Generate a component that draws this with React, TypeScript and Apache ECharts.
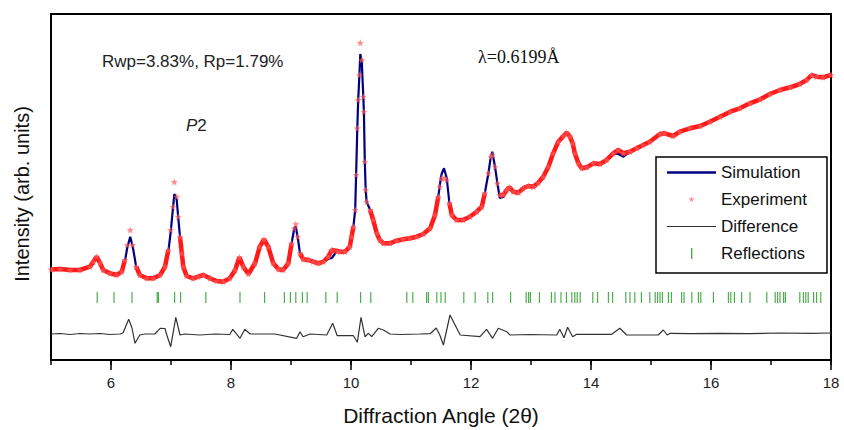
import React, { useEffect, useRef } from 'react';
import * as echarts from 'echarts';

// ---- Data ----
// 2θ positions of the observed/calculated profile (degrees)
const twoTheta = [
  5.00, 5.15, 5.32, 5.48, 5.65, 5.705, 5.76, 5.82, 5.87, 5.98,
  6.095, 6.18, 6.23, 6.27, 6.32, 6.36, 6.42, 6.48, 6.595, 6.705,
  6.82, 6.90, 6.955, 6.995, 7.03, 7.055, 7.095, 7.12, 7.15, 7.18,
  7.205, 7.26, 7.37, 7.455, 7.54, 7.65, 7.76, 7.87, 7.98, 8.07,
  8.14, 8.205, 8.29, 8.40, 8.48, 8.55, 8.62, 8.705, 8.79, 8.87,
  8.955, 9.01, 9.055, 9.08, 9.11, 9.15, 9.205, 9.29, 9.37, 9.455,
  9.54, 9.62, 9.68, 9.77, 9.82, 9.90, 9.98, 10.01, 10.04, 10.07,
  10.085, 10.105, 10.12, 10.14, 10.155, 10.18, 10.205, 10.215, 10.23, 10.245,
  10.26, 10.32, 10.37, 10.43, 10.48, 10.54, 10.65, 10.76, 10.87, 10.98,
  11.095, 11.205, 11.32, 11.40, 11.455, 11.48, 11.51, 11.55, 11.595, 11.64,
  11.68, 11.76, 11.87, 11.98, 12.095, 12.18, 12.23, 12.29, 12.33, 12.355,
  12.40, 12.44, 12.48, 12.54, 12.595, 12.64, 12.705, 12.79, 12.87, 12.955,
  13.04, 13.12, 13.205, 13.29, 13.37, 13.455, 13.54, 13.595, 13.65, 13.695,
  13.73, 13.79, 13.845, 13.93, 14.04, 14.15, 14.26, 14.37, 14.455, 14.54,
  14.65, 14.76, 14.87, 14.98, 15.15, 15.23, 15.37, 15.48, 15.65, 15.82,
  15.98, 16.15, 16.32, 16.48, 16.65, 16.82, 16.98, 17.15, 17.32, 17.48,
  17.595, 17.68, 17.76, 17.87, 18.00,
];

// Observed intensity (arb. units)
const experiment = [
  90.5, 91, 90, 90, 93.3, 98.3, 103.3, 96.7, 90, 86.7,
  85, 88.3, 100, 115, 130, 115, 93.3, 85, 81.7, 81.7,
  85, 93.3, 110, 130, 153.3, 178, 163.3, 143.3, 123.3, 106.7,
  93.3, 84, 81.7, 83.3, 85, 81.7, 79, 78.3, 81.7, 90,
  102.7, 93.3, 86, 96.7, 113.3, 120.7, 113.3, 96.7, 90.7, 90,
  96.7, 116.7, 131.7, 136, 123.3, 106.7, 100.7, 100, 98.3, 96.7,
  98.3, 103.3, 110, 109, 108.3, 108.3, 113.3, 123.3, 133.3, 150,
  185, 231.7, 260, 285, 317.3, 300, 263.3, 248.3, 198.3, 170,
  158.3, 150, 140, 126.7, 120, 116.7, 116.7, 119.3, 120.7, 121.7,
  123.3, 126, 131.7, 145, 163.3, 173.3, 181.7, 181.7, 180, 157,
  145, 140, 140, 143.3, 148.3, 153.3, 166.7, 186.7, 203.3, 205,
  193.3, 176.7, 165, 165, 170, 172.7, 168.3, 167.3, 171.7, 174,
  173.3, 177.3, 183.3, 193.3, 206.7, 218.3, 224, 227.3, 223.3, 216.7,
  206.7, 196.7, 191.7, 192.7, 196.7, 196, 200, 206.7, 210, 206.7,
  208.3, 211.7, 215, 218.3, 226, 226.7, 224, 228.3, 231.7, 234,
  238.3, 243.3, 248.3, 251.7, 256.7, 260.7, 266, 270, 272.7, 276,
  280, 285, 283.3, 282.7, 285,
];

// Calculated (simulated) intensity (arb. units)
const simulation = [
  90.5, 91, 90, 90, 93.3, 98.3, 103.3, 96.7, 90, 86.7,
  85, 88.3, 98, 112, 123.3, 114, 93.3, 85, 81.7, 81.7,
  85, 93.3, 108, 128, 150, 166, 160, 143, 123.3, 106.7,
  93.3, 84, 81.7, 83.3, 85, 81.7, 79, 78.3, 81.7, 90,
  102.7, 93.3, 86, 96.7, 113.3, 120.7, 113.3, 96.7, 90.7, 90,
  96.7, 116.7, 131.7, 133.3, 123.3, 106.7, 100.7, 100, 98.3, 96.7,
  98.3, 101, 102, 109.3, 108.3, 108.3, 113.3, 123.3, 133.3, 150,
  185, 231.7, 260, 285, 306, 298, 263.3, 248.3, 198.3, 170,
  158.3, 150, 140, 126.7, 120, 116.7, 116.7, 119.3, 120.7, 121.7,
  123.3, 126, 131.7, 145, 163.3, 175, 186, 191.7, 182, 157,
  145, 140, 140, 143.3, 148.3, 153.3, 166.7, 186.7, 203.3, 208.3,
  193.3, 176.7, 162, 163, 170, 172.7, 168.3, 167.3, 171.7, 174,
  173.3, 177.3, 183.3, 193.3, 206.7, 218.3, 224, 226, 223.3, 216.7,
  206.7, 196.7, 191.7, 192.7, 196.7, 196, 200, 206.7, 206, 203.3,
  208.3, 211.7, 215, 218.3, 226, 226.7, 224, 228.3, 231.7, 234,
  238.3, 243.3, 248.3, 251.7, 256.7, 260.7, 266, 270, 272.7, 276,
  280, 285, 283.3, 282.7, 285,
];

// Difference curve (offset below the profile)
const diffTheta = [
  5.00, 5.15, 5.32, 5.48, 5.65, 5.82, 5.98, 6.15, 6.20, 6.295,
  6.35, 6.40, 6.48, 6.57, 6.73, 6.82, 6.90, 6.93, 6.995, 7.08,
  7.15, 7.23, 7.48, 7.73, 7.98, 8.03, 8.15, 8.23, 8.32, 8.48,
  8.73, 9.095, 9.15, 9.20, 9.32, 9.595, 9.695, 9.77, 10.04, 10.105,
  10.167, 10.233, 10.29, 10.345, 10.455, 10.54, 10.65, 10.82, 11.15, 11.32,
  11.42, 11.48, 11.54, 11.65, 11.82, 12.15, 12.26, 12.36, 12.455, 12.595,
  12.65, 12.98, 13.43, 13.48, 13.55, 13.61, 13.695, 13.76, 14.15, 14.345,
  14.48, 14.595, 14.98, 15.12, 15.205, 15.27, 15.32, 15.65, 16.15, 16.65,
  17.15, 17.65, 18.00,
];
const difference = [
  26, 26.5, 25.5, 26.5, 26, 26.5, 25.5, 26, 27, 40.7,
  32, 16.7, 25, 26, 26, 31.7, 31.5, 25, 13.3, 42.7,
  25, 26, 25, 26, 25.5, 30.7, 21.7, 30.7, 26, 26,
  26, 21.7, 28.3, 23.3, 26, 25, 36.7, 24.3, 24.3, 17.7,
  42.7, 23.3, 26.7, 23.3, 31.7, 30, 26, 25.5, 26, 26.3,
  32, 25, 15, 45, 25, 23.3, 30.7, 21.7, 31.7, 28.3,
  25, 25.5, 25, 30.7, 22.3, 32.7, 23.3, 25.7, 25.7, 25.7,
  31.7, 25, 25, 25, 30, 25, 26.7, 26.3, 26.7, 26.3,
  27, 26.7, 27,
];

// Bragg reflection positions (2θ)
const reflections = [
  5.77, 6.05, 6.35, 6.77, 6.79, 7.06, 7.16, 7.58, 8.15, 8.56,
  8.89, 8.99, 9.08, 9.19, 9.27, 9.58, 9.77, 10.16, 10.33, 10.93,
  11.03, 11.26, 11.29, 11.43, 11.50, 11.57, 11.88, 12.07, 12.28, 12.36,
  12.66, 12.92, 12.96, 12.99, 13.14, 13.34, 13.40, 13.50, 13.59, 13.68,
  13.73, 13.77, 13.82, 14.03, 14.11, 14.29, 14.36, 14.58, 14.65, 14.73,
  14.84, 14.98, 15.07, 15.11, 15.15, 15.19, 15.29, 15.34, 15.51, 15.55,
  15.68, 15.79, 15.83, 16.04, 16.29, 16.33, 16.39, 16.51, 16.65, 16.93,
  17.07, 17.11, 17.15, 17.21, 17.24, 17.48, 17.54, 17.58, 17.62, 17.71,
  17.76, 17.83,
];

const xTickLabels = [6, 8, 10, 12, 14, 16, 18];

// ---- Presentation ----
const REFLECTION_LEVEL = 62.5;
const FONT = '"Liberation Sans", Arial, Helvetica, sans-serif';
const SERIF = '"Liberation Serif", "Times New Roman", serif';
const RED = '#ff1a1a';
const NAVY = '#000080';
const GREEN = '#1f9a1f';

// steep peaks where the observed points are sparse: the dense red band is not drawn there
const sparseRanges = [
  [6.25, 6.39], [6.98, 7.14], [9.03, 9.13], [10.06, 10.27], [11.46, 11.63], [12.28, 12.45],
];

const STAR =
  'path://M12,1 L14.9,8.3 L22.5,8.9 L16.7,13.9 L18.5,21.5 L12,17.4 L5.5,21.5 L7.3,13.9 L1.5,8.9 L9.1,8.3 Z';
const CORNERS = 'M0,0h0.01v0.01h-0.01zM48.99,13.99h0.01v0.01h-0.01z';
const SIM_ICON = 'path://' + CORNERS + 'M0,5.8h49v2.4h-49z';
const DIFF_ICON = 'path://' + CORNERS + 'M0,6.5h49v1h-49z';
const STAR_ICON =
  'path://' + CORNERS +
  'M24.5,3.8L25.26,5.95L27.54,6.01L25.74,7.4L26.38,9.59L24.5,8.3L22.62,9.59L23.26,7.4L21.46,6.01L23.74,5.95Z';
const TICK_ICON = 'path://' + CORNERS + 'M24,1.5h1.4v11h-1.4z';

function buildOption() {
  const expData = twoTheta.map((t, i) => [t, experiment[i]]);
  const simData = twoTheta.map((t, i) => [t, simulation[i]]);
  const inSparse = (t: number) => sparseRanges.some(([a, b]) => t > a && t < b);
  const bandData = twoTheta.map((t, i) => [t, inSparse(t) ? '-' : experiment[i]]);
  const diffData = diffTheta.map((t, i) => [t, difference[i]]);
  const reflData = reflections.map((t) => [t, REFLECTION_LEVEL]);

  return {
    animation: false,
    backgroundColor: '#ffffff',
    grid: [
      {
        left: 51, right: 13, top: 14, bottom: 70,
        show: true, borderColor: '#000', borderWidth: 2, backgroundColor: 'transparent',
        containLabel: false, outerBoundsMode: 'none',
      },
      {
        left: 51, right: 13, top: 14, bottom: 70, show: false,
        containLabel: false, outerBoundsMode: 'none',
      },
    ],
    xAxis: [
      {
        type: 'value', gridIndex: 0, min: 5, max: 18, interval: 1,
        name: 'Diffraction Angle (2θ)', nameLocation: 'middle', nameGap: 45,
        nameTextStyle: { fontSize: 21, color: '#111', fontFamily: FONT },
        axisLine: { show: true, onZero: false, lineStyle: { color: '#000', width: 2 } },
        axisTick: { show: true, customValues: xTickLabels, length: 10, lineStyle: { color: '#000', width: 1.5 } },
        axisLabel: { show: true, customValues: xTickLabels, margin: 15, fontSize: 15, color: '#222', fontFamily: FONT },
        splitLine: { show: false },
      },
      {
        type: 'value', gridIndex: 1, min: 5, max: 18, interval: 1, position: 'bottom',
        axisLine: { show: false, onZero: false },
        axisTick: { show: true, length: 5, lineStyle: { color: '#000', width: 1.5 } },
        axisLabel: { show: false },
        splitLine: { show: false },
      },
    ],
    yAxis: [
      {
        type: 'value', gridIndex: 0, min: 0, max: 346,
        name: 'Intensity (arb. units)', nameLocation: 'middle', nameGap: 19, nameRotate: 90,
        nameTextStyle: { fontSize: 20, color: '#111', fontFamily: FONT, padding: [0, 14, 0, 0] },
        axisLine: { show: true, onZero: false, lineStyle: { color: '#000', width: 2 } },
        axisTick: { show: false }, axisLabel: { show: false }, splitLine: { show: false },
      },
      { type: 'value', gridIndex: 1, min: 0, max: 346, show: false },
    ],
    legend: {
      left: 656, top: 157, orient: 'vertical',
      data: [
        { name: 'Simulation', icon: SIM_ICON },
        { name: 'Experiment', icon: STAR_ICON },
        { name: 'Difference', icon: DIFF_ICON },
        { name: 'Reflections', icon: TICK_ICON },
      ],
      itemWidth: 49, itemHeight: 14, itemGap: 10,
      borderColor: '#000', borderWidth: 1.5, borderRadius: 0,
      padding: [7, 20, 11, 11],
      backgroundColor: '#fff',
      selectedMode: false,
      itemStyle: { borderWidth: 0 },
      textStyle: { fontSize: 17, color: '#111', fontFamily: FONT },
    },
    graphic: [
      {
        type: 'text', left: 102, top: 53,
        style: { text: 'Rwp=3.83%, Rp=1.79%', fontSize: 17, fontFamily: FONT, fill: '#222' },
      },
      {
        type: 'text', left: 186, top: 117,
        style: {
          text: '{i|P}2', fontSize: 17, fontFamily: FONT, fill: '#222',
          rich: { i: { fontStyle: 'italic', fontSize: 17, fontFamily: FONT, fill: '#222' } },
        },
      },
      {
        type: 'text', left: 478, top: 48,
        style: { text: 'λ=0.6199Å', fontSize: 18, fontFamily: SERIF, fill: '#111' },
      },
    ],
    series: [
      {
        name: 'Simulation', type: 'line', xAxisIndex: 0, yAxisIndex: 0, data: simData,
        symbol: 'none', showSymbol: false, lineStyle: { color: NAVY, width: 2.2 }, itemStyle: { color: NAVY }, z: 2,
      },
      {
        name: 'Experiment', type: 'scatter', xAxisIndex: 0, yAxisIndex: 0, data: expData,
        symbol: STAR, symbolSize: 7, itemStyle: { color: 'rgba(255,90,90,0.85)' }, z: 4,
      },
      {
        name: 'Experiment band', type: 'line', xAxisIndex: 0, yAxisIndex: 0, data: bandData,
        connectNulls: false,
        symbol: 'none', showSymbol: false, lineStyle: { color: RED, width: 4.5 }, itemStyle: { color: RED }, z: 3,
      },
      {
        name: 'Difference', type: 'line', xAxisIndex: 0, yAxisIndex: 0, data: diffData,
        symbol: 'none', showSymbol: false, lineStyle: { color: '#333', width: 1.2 }, itemStyle: { color: '#333' }, z: 2,
      },
      {
        name: 'Reflections', type: 'scatter', xAxisIndex: 0, yAxisIndex: 0, data: reflData,
        symbol: 'rect', symbolSize: [1.2, 11], itemStyle: { color: GREEN }, z: 2,
      },
    ],
  };
}

export default function App() {
  const ref = useRef<HTMLDivElement>(null);
  useEffect(() => {
    if (!ref.current) return;
    const chart = echarts.init(ref.current, null, { renderer: 'svg' });
    chart.setOption(buildOption() as any);
    return () => chart.dispose();
  }, []);
  return (
    <div
      ref={ref}
      style={{ position: 'fixed', left: 0, top: 0, width: 844, height: 430, background: '#fff' }}
    />
  );
}
